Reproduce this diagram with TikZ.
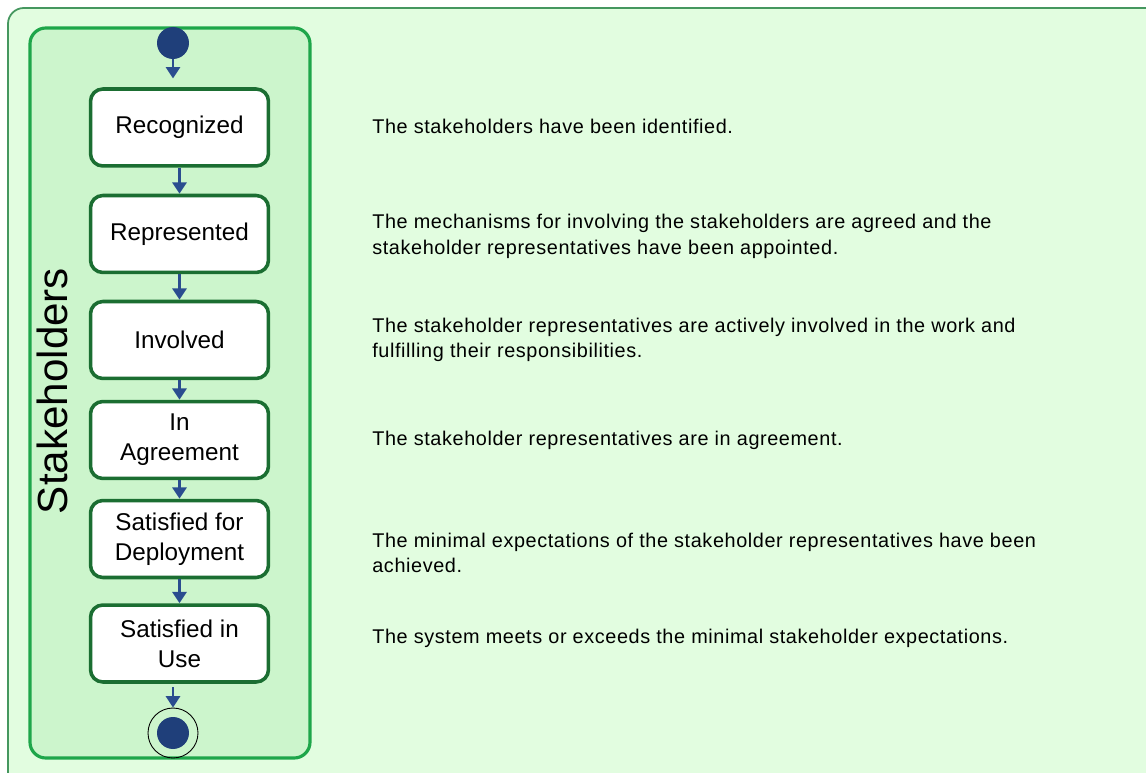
\documentclass[tikz,border=0pt]{standalone}
\usepackage{fontspec}
\setmainfont{Liberation Sans}
\usetikzlibrary{arrows.meta}

\definecolor{pagegreen}{HTML}{E2FDE0}
\definecolor{lanegreen}{HTML}{CCF5CC}
\definecolor{laneline}{HTML}{1EA64A}
\definecolor{boxline}{HTML}{1B6E32}
\definecolor{dotblue}{HTML}{1F3F7A}
\definecolor{flowblue}{HTML}{2A4D8F}

\tikzset{
  state/.style={draw=boxline,line width=2pt,fill=white,rounded corners=7pt,
    minimum width=3.56cm,minimum height=1.54cm,align=center,
    font=\fontsize{13.8}{17}\selectfont},
  desc/.style={anchor=west,align=left,inner sep=0pt,
    font=\fontsize{11.3}{14.5}\selectfont\addfontfeature{LetterSpace=3}},
  flow/.style={flowblue,line width=1.7pt,-{Triangle[length=6.5pt,width=8pt]}}
}

\begin{document}
\begin{tikzpicture}[x=0.02cm,y=-0.02cm]
\clip (0,0) rectangle (1146,773);
\draw[fill=pagegreen,draw=laneline!60!gray,line width=1pt,rounded corners=9pt] (8,8) rectangle (1180,800);
\draw[fill=lanegreen,draw=laneline,line width=1.8pt,rounded corners=9pt] (30,28) rectangle (310,758);
\node[rotate=90,font=\fontsize{24}{28}\selectfont] (lane) at (52,391) {Stakeholders};

% states
\node[circle,fill=dotblue,minimum size=0.64cm,inner sep=0pt] (start) at (173,43) {};
\node[state] (s1) at (179.5,127.5) {Recognized};
\node[state] (s2) at (179.5,234) {Represented};
\node[state] (s3) at (179.5,340) {Involved};
\node[state] (s4) at (179.5,440) {In\\Agreement};
\node[state] (s5) at (179.5,539) {Satisfied for\\Deployment};
\node[state] (s6) at (179.5,643.5) {Satisfied in\\Use};
\node[circle,draw=black,line width=0.5pt,minimum size=1cm,inner sep=0pt] (stop) at (173,733) {};
\node[circle,fill=dotblue,minimum size=0.64cm,inner sep=0pt] at (stop) {};

\draw[flow] (start) -- ([yshift=5pt]s1.north -| start);
\foreach \a/\b in {s1/s2,s2/s3,s3/s4,s4/s5,s5/s6}
\draw[flow] (\a) -- (\b);
\draw[flow] ([yshift=-2pt]s6.south -| stop) -- (stop);

% descriptions
\node[desc] (d1) at (372,126) {The stakeholders have been identified.};
\node[desc] (d2) at (372,236.5) {The mechanisms for involving the stakeholders are agreed and the\\stakeholder representatives have been appointed.};
\node[desc] (d3) at (372,340) {The stakeholder representatives are actively involved in the work and\\fulfilling their responsibilities.};
\node[desc] (d4) at (372,440) {The stakeholder representatives are in agreement.};
\node[desc] (d5) at (372,553) {The minimal expectations of the stakeholder representatives have been\\achieved.};
\node[desc] (d6) at (372,638) {The system meets or exceeds the minimal stakeholder expectations.};
\end{tikzpicture}
\end{document}
